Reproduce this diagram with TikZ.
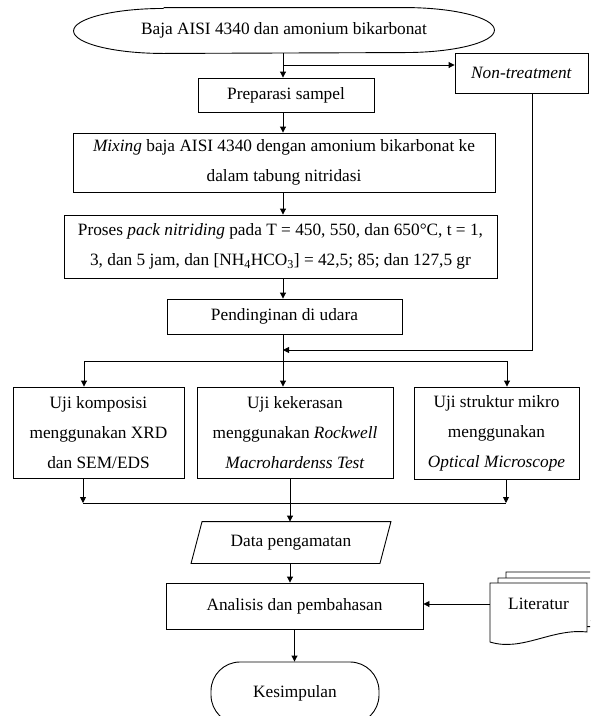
\documentclass[tikz,border=0pt]{standalone}
\usepackage{fontspec}
\setmainfont{Liberation Serif}
\usetikzlibrary{arrows.meta}
\newcommand{\flowfont}{\fontsize{17.3}{30}\selectfont}

\begin{document}
\begin{tikzpicture}[x=1pt,y=-1pt,line width=0.9pt,font=\flowfont,
  box/.style={draw,rectangle,inner sep=0pt,align=center},
  arr/.style={-{Triangle[length=6pt,width=6pt]}}]
\useasboundingbox (0,0) rectangle (590,716);
\clip (0,0) rectangle (590,716);
% Start and the two ways out of it
\node[box,draw=none,minimum width=420pt,minimum height=45pt] (start) at (284,30.5) {Baja AISI 4340 dan amonium bikarbonat};
\draw ([xshift=90pt]start.north west) -- ([xshift=-90pt]start.north east)
  arc[start angle=90,end angle=-90,x radius=90pt,y radius=22.5pt]
  -- ([xshift=90pt]start.south west)
  arc[start angle=270,end angle=90,x radius=90pt,y radius=22.5pt];
\node[box,minimum width=133pt,minimum height=40pt] (nontreat) at (521.5,73) {\textit{Non-treatment}};
% Treatment steps
\node[box,minimum width=176pt,minimum height=34pt] (prep) at (286,95) {Preparasi sampel};
\node[box,minimum width=422pt,minimum height=59pt] (mixing) at (284,162.5) {\textit{Mixing} baja AISI 4340 dengan amonium bikarbonat ke\\dalam tabung nitridasi};
\node[box,minimum width=433pt,minimum height=63pt] (proses) at (280.5,246.5) {Proses \textit{pack nitriding} pada T = 450, 550, dan 650°C, t = 1,\\3, dan 5 jam, dan [NH\textsubscript{4}HCO\textsubscript{3}] = 42,5; 85; dan 127,5 gr};
\node[box,minimum width=235pt,minimum height=35pt] (cool) at (284.5,316.5) {Pendinginan di udara};
% The three tests
\node[box,minimum width=171pt,minimum height=91pt] (uji1) at (98.5,432.5) {Uji komposisi\\menggunakan XRD\\dan SEM/EDS};
\node[box,minimum width=196pt,minimum height=91pt] (uji2) at (295,432.5) {Uji kekerasan\\menggunakan \textit{Rockwell}\\\textit{Macrohardenss Test}};
\node[box,minimum width=165pt,minimum height=92pt] (uji3) at (496.5,433) {Uji struktur mikro\\menggunakan\\\textit{Optical Microscope}};
% Data, analysis and end
\node[box,draw=none,minimum width=188pt,minimum height=41pt] (data) at (291,542.5) {Data pengamatan};
\draw ([xshift=-5.5pt]data.south west) -- ([xshift=5.5pt]data.north west)
  -- ([xshift=5.5pt]data.north east) -- ([xshift=-5.5pt]data.south east) -- cycle;
\node[box,minimum width=257pt,minimum height=46pt] (anal) at (294.5,606) {Analisis dan pembahasan};
\node[box,rounded corners=29pt,minimum width=168pt,minimum height=62pt] (kes) at (295,693) {Kesimpulan};
% Literature pages, back to front
\foreach \dx/\dy in {16/-11,8/-5,0/0}
  \draw[fill=white,shift={(\dx,\dy)}] (490,583) -- (587,583) -- (587,632)
    .. controls (552,628) and (522,652) .. (490,642) -- cycle;
\node[box,draw=none,minimum width=97pt,minimum height=40pt] (lit) at (538.5,604) {Literatur};
% Connectors at the top
\coordinate (split1) at (283,65);
\draw[arr] (start.south -| split1) -- (prep.north -| split1);
\draw[arr] (split1) -- (nontreat.west |- split1);
\draw[arr] (prep.south -| split1) -- (mixing.north -| split1);
\draw[arr] (mixing.south -| split1) -- (proses.north -| split1);
\draw[arr] (proses.south -| split1) -- (cool.north -| split1);
% Non-treatment joins after cooling
\coordinate (join) at (283,350);
\coordinate (fork) at (283,361);
\draw (cool.south -| join) -- (fork);
\draw[arr] ([xshift=10.5pt]nontreat.south) |- (join);
% Fork to the tests
\coordinate (f1) at (84,361);
\coordinate (f3) at (507,361);
\draw (f1) -- (f3);
\draw[arr] (f1) -- (f1 |- uji1.north);
\draw[arr] (fork) -- (fork |- uji2.north);
\draw[arr] (f3) -- (f3 |- uji3.north);
% Tests merge into data
\coordinate (m1) at (83,503);
\coordinate (m2) at (290,503);
\coordinate (m3) at (506,503);
\draw[arr] (m1 |- uji1.south) -- (m1);
\draw[arr] (m3 |- uji3.south) -- (m3);
\draw (m1) -- (m3);
\draw[arr] (m2 |- uji2.south) -- (m2 |- data.north);
\draw[arr] (m2 |- data.south) -- (m2 |- anal.north);
\draw[arr] (anal.south) -- (anal.south |- kes.north);
\draw[arr] (lit.west) -- (anal.east |- lit.west);
\end{tikzpicture}
\end{document}
